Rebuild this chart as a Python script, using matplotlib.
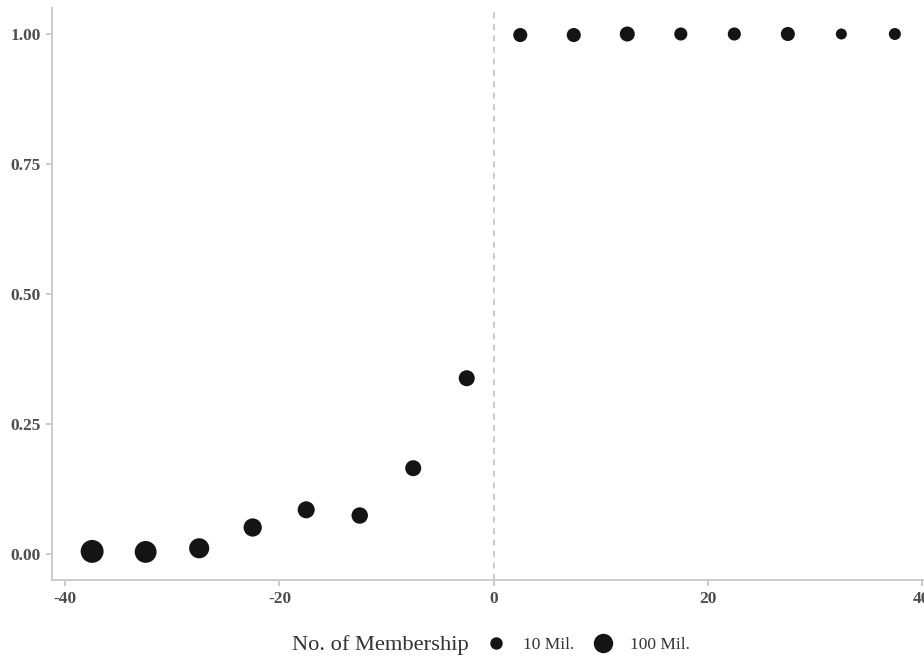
import numpy as np
import matplotlib
matplotlib.use('Agg')
import matplotlib.pyplot as plt
from matplotlib.lines import Line2D

plt.rcParams['font.family'] = ['Liberation Serif', 'DejaVu Serif']
plt.rcParams['axes.unicode_minus'] = False

# data
bin_mid = [-37.5, -32.5, -27.5, -22.5, -17.5, -12.5, -7.5, -2.5,
           2.5, 7.5, 12.5, 17.5, 22.5, 27.5, 32.5, 37.5]
share = [0.005, 0.004, 0.011, 0.051, 0.085, 0.074, 0.165, 0.338,
         0.998, 0.998, 1.0, 1.0, 1.0, 1.0, 1.0, 1.0]
members_mil = [220, 190, 145, 105, 82, 72, 65, 65,
               38, 38, 50, 27, 27, 38, 10, 17]
legend_vals = [10, 100]
legend_labels = ['10 Mil.', '100 Mil.']

DPI = 100


def marker_area(v):
    # diameter in px grows with sqrt of membership, converted to pt^2
    d_px = 7.8 + 1.02 * np.sqrt(np.asarray(v, dtype=float))
    return (d_px * 72.0 / DPI) ** 2


fig = plt.figure(figsize=(9.24, 6.58), dpi=DPI)
ax = fig.add_axes([52 / 924, 1 - 580 / 658, 883 / 924, 572 / 658])

ax.axvline(0, color='#bdbdbd', linestyle=(0, (4, 3.5)), linewidth=1.1, zorder=1)
ax.scatter(bin_mid, share, s=marker_area(members_mil), color='#141414',
           edgecolors='none', zorder=3)

ax.set_xlim(-41.25, 41.25)
ax.set_ylim(-0.05, 1.05)
ax.set_xticks([-40, -20, 0, 20, 40])
ax.set_yticks([0, 0.25, 0.5, 0.75, 1.0])
ax.set_yticklabels(['0.00', '0.25', '0.50', '0.75', '1.00'])

# Formatting
for side in ['top', 'right']:
    ax.spines[side].set_visible(False)
for side in ['left', 'bottom']:
    ax.spines[side].set_color('#cccccc')
    ax.spines[side].set_linewidth(1.4)
ax.tick_params(axis='both', colors='#bdbdbd', length=4, width=1.1,
               labelcolor='#4d4d4d', labelsize=12.5, pad=4)
for lab in ax.get_xticklabels() + ax.get_yticklabels():
    lab.set_fontweight('bold')

# legend at the bottom
leg_y = 1 - 645 / 658
fig.text(469 / 924, leg_y, 'No. of Membership', ha='right', va='center',
         fontsize=16.2, color='#333333')
handles = [Line2D([], [], linestyle='none', marker='o', color='#141414',
                  markersize=np.sqrt(a)) for a in marker_area(legend_vals)]
fig.legend(handles, legend_labels, loc='center left', ncol=2,
           bbox_to_anchor=(487 / 924, leg_y), frameon=False, fontsize=12.5,
           borderpad=0, borderaxespad=0, handlelength=1.0,
           handletextpad=1.05, columnspacing=1.2, labelcolor='#333333')

fig.savefig('out.png', dpi=DPI)
